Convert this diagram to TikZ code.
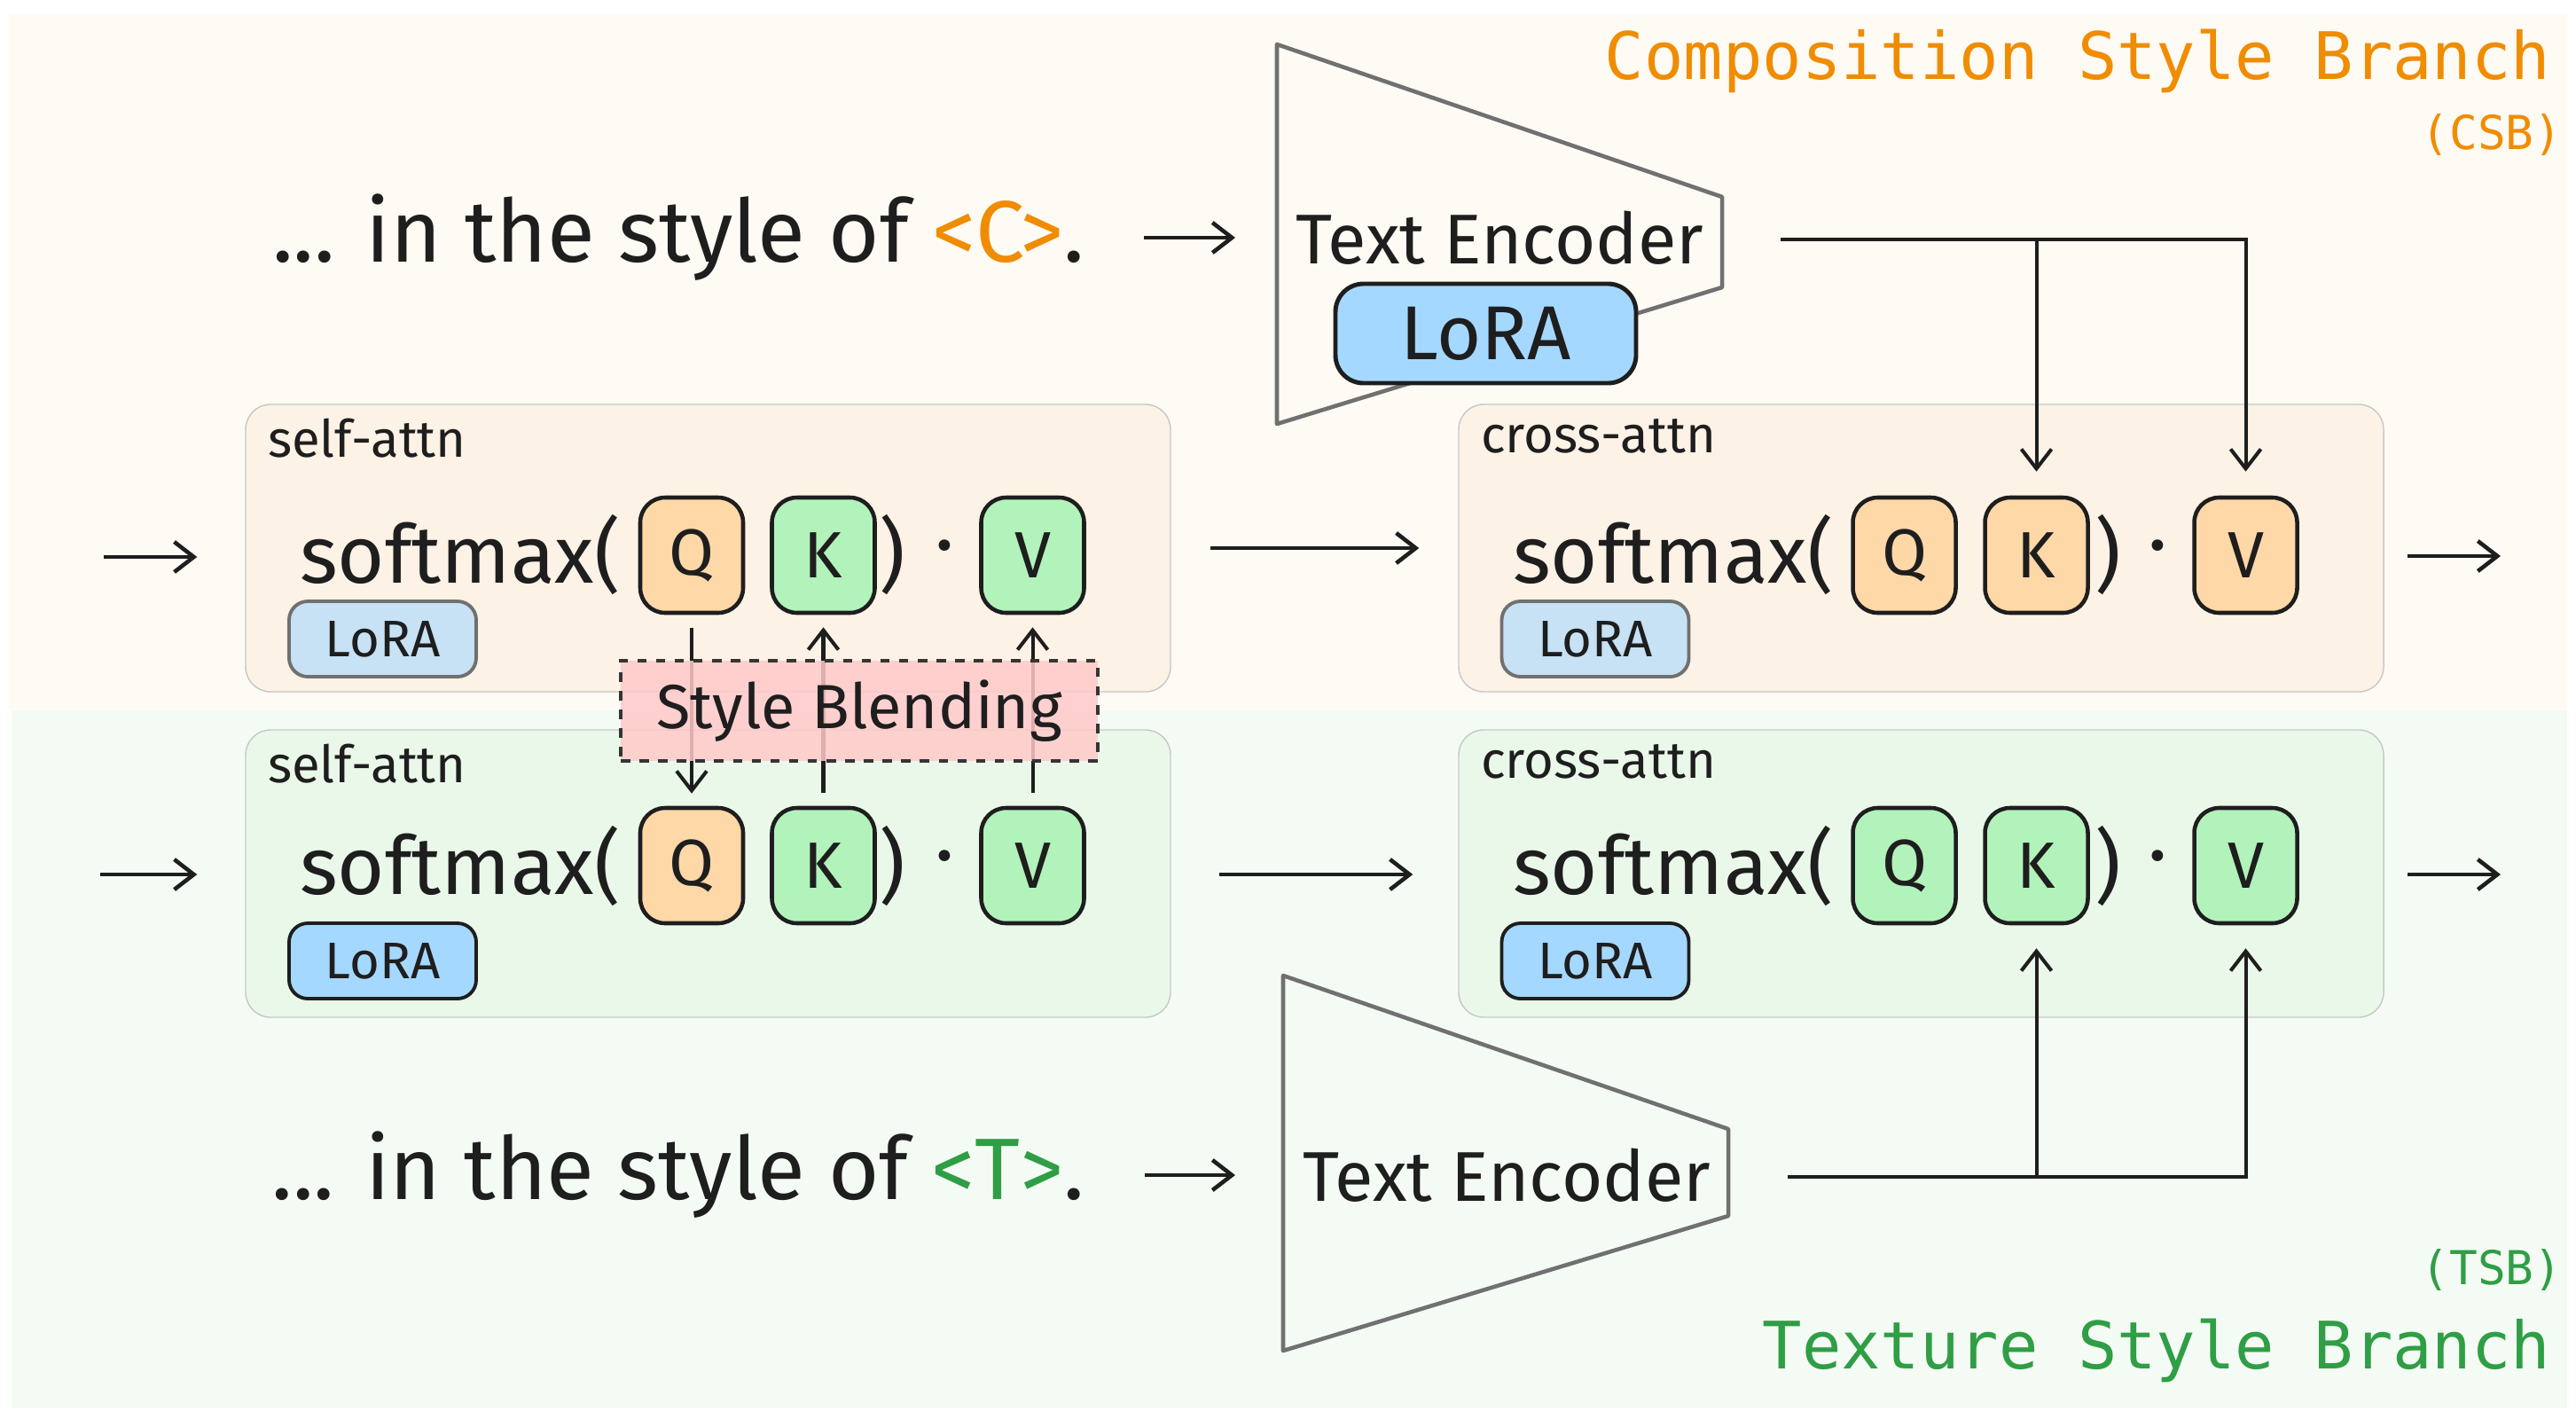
\documentclass[tikz,border=0pt]{standalone}
\usepackage{fontspec}
\setmainfont{Fira Sans}
\newfontfamily\branchfont{DejaVu Sans Mono}
\usepackage{tikz}
\usetikzlibrary{arrows.meta,positioning}
\definecolor{ink}{HTML}{1E1E1E}
\definecolor{csbbg}{HTML}{FEFAF4}
\definecolor{tsbbg}{HTML}{F4FBF5}
\definecolor{csbpanel}{HTML}{FDF2E6}
\definecolor{tsbpanel}{HTML}{EAF8EA}
\definecolor{csborange}{HTML}{F08C00}
\definecolor{tsbgreen}{HTML}{2F9E44}
\definecolor{qorange}{HTML}{FFD8A8}
\definecolor{kgreen}{HTML}{B2F2BB}
\definecolor{lorablue}{HTML}{A5D8FF}
\definecolor{lorapale}{HTML}{C6E2F4}
\definecolor{blendpink}{HTML}{FFC9C9}
\definecolor{encgray}{HTML}{707070}
\tikzset{
  panel/.style={draw=black!22, rounded corners=8pt, minimum width=10.43cm, minimum height=3.24cm},
  tag/.style={font=\fontsize{16.5}{16.5}\selectfont, text=ink, anchor=north west, inner sep=0pt},
  formula/.style={font=\fontsize{26}{26}\selectfont, text=ink, inner sep=0pt},
  key/.style={draw=ink, line width=1.3pt, rounded corners=8pt, minimum width=1.16cm, minimum height=1.3cm, font=\fontsize{21}{21}\selectfont, text=ink},
  lora/.style={draw=ink, line width=1.1pt, rounded corners=6pt, fill=lorablue, minimum width=2.11cm, minimum height=0.85cm, font=\fontsize{16.5}{16.5}\selectfont, text=ink},
  prompt/.style={font=\fontsize{28}{28}\selectfont, text=ink},
  encoder/.style={draw=encgray, line width=1.3pt, line join=round},
  branch/.style={font=\branchfont\fontsize{21}{21}\selectfont, anchor=east, inner sep=0pt},
  arr/.style={-{Straight Barb[length=2.2mm,width=3.4mm]}, line width=1.3pt, draw=ink},
  feed/.style={arr, line width=1.15pt},
}
\newcommand{\qkv}[4][]{\node[key,#1] at (#2) (#3) {#4}}

\begin{document}
\begin{tikzpicture}[x=1cm, y=-1cm]
    \useasboundingbox (0,0) rectangle (29.05,15.99);
    \fill[white] (0,0) rectangle (29.05,15.99);
    \fill[csbbg] (0.10,0.17) rectangle (28.95,7.99);
    \fill[tsbbg] (0.13,8.00) rectangle (28.95,15.88);

    % branch titles
    \node[branch, text=csborange] (csb-title) at (28.77,0.69) {Composition Style Branch};
    \node[branch, text=csborange, font=\branchfont\fontsize{15}{15}\selectfont] (csb-short) at (28.90,1.52) {(CSB)};
    \node[branch, text=tsbgreen, font=\branchfont\fontsize{15}{15}\selectfont] (tsb-short) at (28.90,14.32) {(TSB)};
    \node[branch, text=tsbgreen] (tsb-title) at (28.77,15.23) {Texture Style Branch};

    % text encoders
    \draw[encoder] (14.40,0.50) -- (19.42,2.22) -- (19.42,3.24) -- (14.40,4.78) -- cycle;
    \draw[encoder] (14.47,11.00) -- (19.49,12.73) -- (19.49,13.71) -- (14.47,15.23) -- cycle;
    \node[prompt, font=\fontsize{22.6}{22.6}\selectfont] (csb-enc) at (16.91,2.68) {Text Encoder};
    \node[prompt, font=\fontsize{22.6}{22.6}\selectfont] (tsb-enc) at (16.99,13.25) {Text Encoder};
    \node[lora, minimum width=3.39cm, minimum height=1.12cm, line width=1.4pt, rounded corners=9pt, font=\fontsize{24.5}{24.5}\selectfont] (csb-enc-lora) at (16.755,3.76) {LoRA};

    % prompts
    \node[prompt] (csb-prompt) at (7.65,2.68) {... in the style of \textcolor{csborange}{<C>}.};
    \node[prompt] (tsb-prompt) at (7.65,13.25) {... in the style of \textcolor{tsbgreen}{<T>}.};
    \coordinate (csb-enc-in) at (13.93,2.68);
    \coordinate (tsb-enc-in) at (13.93,13.25);
    \draw[arr] ([xshift=5.5mm]csb-prompt.east) -- (csb-enc-in);
    \draw[arr] ([xshift=5.5mm]tsb-prompt.east) -- (tsb-enc-in);

    % attention panels
    \node[panel, fill=csbpanel] (csb-sa) at (7.985,6.18) {};
    \node[panel, fill=csbpanel] (csb-ca) at (21.665,6.18) {};
    \node[panel, fill=tsbpanel] (tsb-sa) at (7.985,9.85) {};
    \node[panel, fill=tsbpanel] (tsb-ca) at (21.665,9.85) {};
    \node[tag] at ([shift={(0.25cm,-0.16cm)}]csb-sa.north west) {self-attn};
    \node[tag] at ([shift={(0.25cm,-0.16cm)}]csb-ca.north west) {cross-attn};
    \node[tag] at ([shift={(0.25cm,-0.16cm)}]tsb-sa.north west) {self-attn};
    \node[tag] at ([shift={(0.25cm,-0.16cm)}]tsb-ca.north west) {cross-attn};

    % softmax(Q K) V
    \node[formula] (csb-sa-sm) at (5.19,6.26) {softmax(};
    \node[formula] (csb-ca-sm) at (18.87,6.26) {softmax(};
    \node[formula] (tsb-sa-sm) at (5.19,9.76) {softmax(};
    \node[formula] (tsb-ca-sm) at (18.87,9.76) {softmax(};
    \foreach \x/\y in {10.06/6.26, 23.77/6.26, 10.06/9.76, 23.77/9.76}
        \node[formula] at (\x,\y) {)};
    \foreach \x/\y in {10.65/6.26, 24.33/6.26, 10.65/9.76, 24.33/9.76}
        \node[formula] at (\x,\y) {·};

    \qkv[fill=qorange]{7.80,6.26}{csb-sQ}{Q};
    \qkv[fill=kgreen]{9.285,6.26}{csb-sK}{K};
    \qkv[fill=kgreen]{11.645,6.26}{csb-sV}{V};
    \qkv[fill=qorange]{21.475,6.26}{csb-cQ}{Q};
    \qkv[fill=qorange]{22.965,6.26}{csb-cK}{K};
    \qkv[fill=qorange]{25.325,6.26}{csb-cV}{V};
    \qkv[fill=qorange]{7.80,9.76}{tsb-sQ}{Q};
    \qkv[fill=kgreen]{9.285,9.76}{tsb-sK}{K};
    \qkv[fill=kgreen]{11.645,9.76}{tsb-sV}{V};
    \qkv[fill=kgreen]{21.475,9.76}{tsb-cQ}{Q};
    \qkv[fill=kgreen]{22.965,9.76}{tsb-cK}{K};
    \qkv[fill=kgreen]{25.325,9.76}{tsb-cV}{V};

    % LoRA in the panels
    \node[lora, fill=lorapale, draw=encgray] (csb-sa-lora) at (4.315,7.205) {LoRA};
    \node[lora, fill=lorapale, draw=encgray] (csb-ca-lora) at (17.99,7.205) {LoRA};
    \node[lora] (tsb-sa-lora) at (4.315,10.835) {LoRA};
    \node[lora] (tsb-ca-lora) at (17.99,10.835) {LoRA};

    % flow through the blocks
    \coordinate (csb-in) at (1.17,6.28);
    \coordinate (tsb-in) at (1.13,9.86);
    \coordinate (csb-out) at (28.20,6.27);
    \coordinate (tsb-out) at (28.20,9.86);
    \draw[arr, shorten >=5.4mm] (csb-in) -- (csb-sa.west |- csb-in);
    \draw[arr, shorten >=5.4mm] (tsb-in) -- (tsb-sa.west |- tsb-in);
    \draw[arr, shorten <=4.4mm, shorten >=4.4mm] (csb-sa) -- (csb-ca);
    \draw[arr, shorten <=5.4mm, shorten >=5.1mm] (tsb-sa.east |- tsb-in) -- (tsb-ca.west |- tsb-in);
    \draw[arr, shorten <=2.6mm] (csb-ca.east |- csb-out) -- (csb-out);
    \draw[arr, shorten <=2.6mm] (tsb-ca.east |- tsb-out) -- (tsb-out);

    % encoders into K and V
    \coordinate (csb-enc-out) at (20.08,2.70);
    \coordinate (tsb-enc-out) at (20.16,13.27);
    \draw[feed, shorten >=2.7mm] (csb-enc-out) -| (csb-cV.north);
    \draw[feed, shorten >=2.7mm] (csb-enc-out -| csb-cK) -- (csb-cK.north);
    \draw[feed, shorten >=2.6mm] (tsb-enc-out) -| (tsb-cV.south);
    \draw[feed, shorten >=2.6mm] (tsb-enc-out -| tsb-cK) -- (tsb-cK.south);

    % style blending
    \draw[feed, shorten <=1.5mm, shorten >=1.4mm] (csb-sQ) -- (tsb-sQ);
    \draw[feed, shorten <=1.5mm, shorten >=1.4mm] (tsb-sK) -- (csb-sK);
    \draw[feed, shorten <=1.5mm, shorten >=1.4mm] (tsb-sV) -- (csb-sV);
    \node[draw=ink!90, dashed, line width=1.1pt, fill=blendpink, fill opacity=0.85, text opacity=1,
          minimum width=5.38cm, minimum height=1.13cm, font=\fontsize{20}{20}\selectfont, text=ink]
          (blend) at (9.69,8.015) {Style Blending};
\end{tikzpicture}
\end{document}
